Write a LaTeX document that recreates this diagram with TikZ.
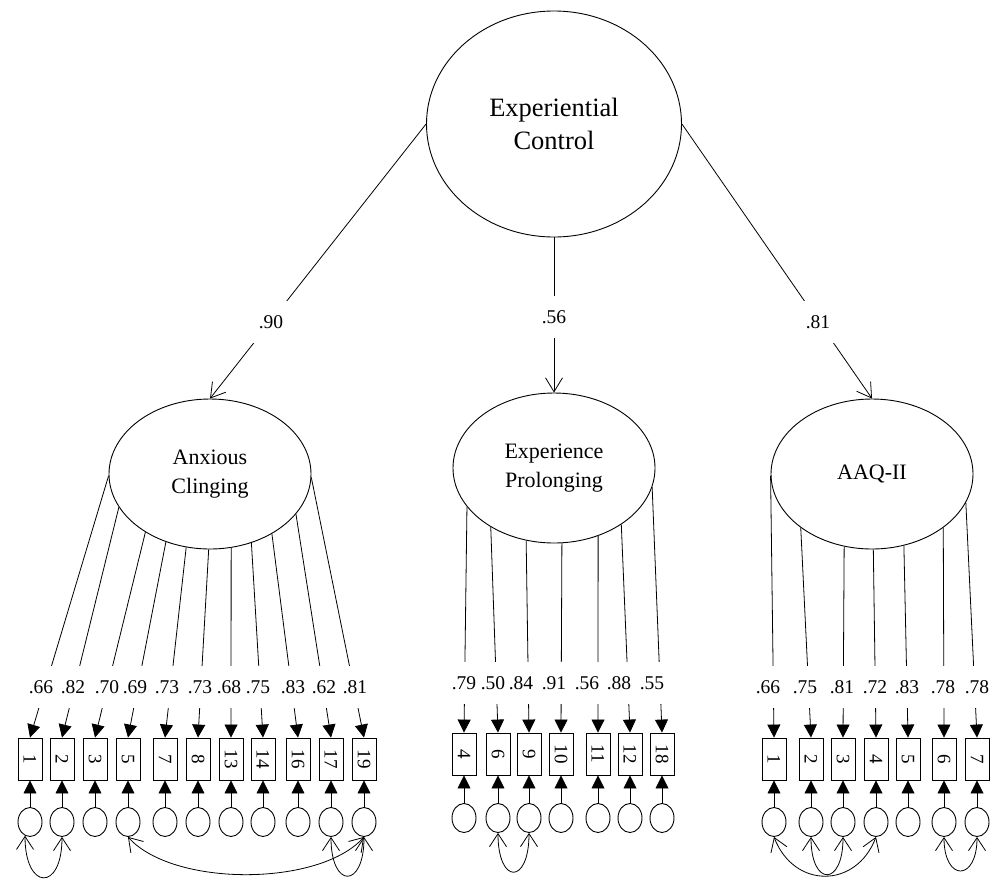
\documentclass[tikz,border=0pt]{standalone}
\usepackage{fontspec}
\setmainfont{Liberation Serif}
\usepackage{graphicx}
\usetikzlibrary{arrows.meta,shapes.geometric}
\newcommand\vtxt[1]{\rotatebox{-90}{#1}}
\begin{document}
\begin{tikzpicture}[x=1pt,y=-1pt,
  lv/.style={draw, ellipse, line width=0.9pt, inner sep=0pt, minimum width=202pt, minimum height=150pt, align=center, font=\fontsize{22}{29}\selectfont},
  item/.style={draw, rectangle, line width=0.9pt, minimum width=24pt, minimum height=42pt, inner sep=0pt, font=\fontsize{19}{20}\selectfont},
  err/.style={draw, ellipse, line width=0.9pt, minimum width=24pt, minimum height=29pt, inner sep=0pt},
  lab/.style={fill=white, inner sep=0pt, minimum width=30pt, minimum height=42pt, font=\fontsize{19.5}{20}\selectfont},
  toplab/.style={lab, minimum width=38pt},
  ld/.style={line width=0.8pt, -{Triangle[length=13pt,width=13pt]}},
  hi/.style={line width=0.8pt, -{Straight Barb[length=14pt,width=17pt]}},
  cov/.style={line width=0.8pt, {Straight Barb[length=13pt,width=17pt]}-{Straight Barb[length=13pt,width=17pt]}}
]
\useasboundingbox (0,0) rectangle (1003,879);

% latent variables
\node[draw, ellipse, line width=0.9pt, inner sep=0pt, minimum width=255pt, minimum height=226pt, align=center, font=\fontsize{26.5}{33}\selectfont] (TC) at (554,124) {Experiential\\Control};
\node[lv] (AC) at (210,474) {Anxious\\Clinging};
\node[lv] (EP) at (554,468) {Experience\\Prolonging};
\node[lv] (AQ) at (872,474) {AAQ-II};

% higher-order paths
\draw[hi] (TC.west) -- (AC.north);
\draw[hi] (TC.south) -- (EP.north);
\draw[hi] (TC.east) -- (AQ.north);
\node[toplab] (l90) at (271,322) {.90};
\node[toplab] (l56) at (554,317) {.56};
\node[toplab] (l81) at (818,322) {.81};

% Anxious Clinging indicators
\foreach \n/\x/\lx/\a/\v in {1/30/41/181/.66, 2/62/73/200/.82, 3/95/107/222/.70, 5/128/135/237/.69, 7/165/167/252/.73, 8/198/200/269/.73, 13/231/229/286/.68, 14/263/258/301/.75, 16/298/293/316/.83, 17/331/324/335/.62, 19/364/355/358/.81}{
  \node[item] (a\n) at (\x,759) {\vtxt{\n}};
  \node[err] (ea\n) at (\x,822) {};
  \draw[ld] (AC.\a) -- (a\n.north);
  \node[lab] (la\n) at (\lx,687) {\v};
  \draw[ld] (ea\n.north) -- (a\n.south);
}

% Experience Prolonging indicators
\foreach \n/\x/\lx/\a/\v in {4/464/464/204/.79, 6/498/493/223/.50, 9/529/521/249/.84, 10/561/554/276/.91, 11/598/587/303/.56, 12/630/619/320/.88, 18/662/652/349/.55}{
  \node[item] (b\n) at (\x,754) {\vtxt{\n}};
  \node[err] (eb\n) at (\x,818) {};
  \draw[ld] (EP.\a) -- (b\n.north);
  \node[lab] (lb\n) at (\lx,683) {\v};
  \draw[ld] (eb\n.north) -- (b\n.south);
}

% AAQ-II indicators
\foreach \n/\x/\lx/\a/\v in {1/774/768/181/.66, 2/811/805/217/.75, 3/843/842/249/.81, 4/876/875/271/.72, 5/908/907/294/.83, 6/944/943/323/.78, 7/977/977/343/.78}{
  \node[item] (c\n) at (\x,759) {\vtxt{\n}};
  \node[err] (ec\n) at (\x,822) {};
  \draw[ld] (AQ.\a) -- (c\n.north);
  \node[lab] (lc\n) at (\lx,687) {\v};
  \draw[ld] (ec\n.north) -- (c\n.south);
}

% covariances
\draw[cov] (ea1.250) .. controls +(0,55) and +(0,55) .. (ea2.270);
\draw[cov] (ea5.south) .. controls +(45,50) and +(-45,50) .. (ea19.south);
\draw[cov] (ea17.south) .. controls +(0,52) and +(0,52) .. (ea19.south);
\draw[cov] (eb6.south) .. controls +(0,52) and +(0,52) .. (eb9.south);
\draw[cov] (ec1.south) .. controls +(20,52) and +(-20,52) .. (ec4.south);
\draw[cov] (ec2.south) .. controls +(0,50) and +(0,50) .. (ec3.south);
\draw[cov] (ec6.south) .. controls +(0,45) and +(0,45) .. (ec7.south);
\end{tikzpicture}
\end{document}
